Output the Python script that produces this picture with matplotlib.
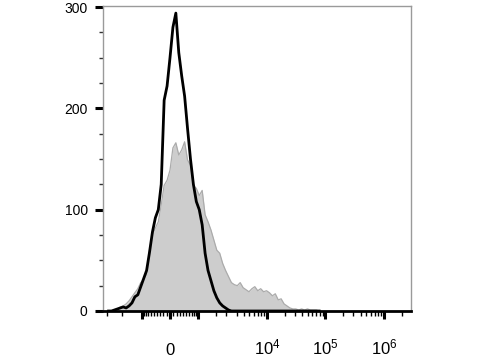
import numpy as np
import matplotlib
matplotlib.use("Agg")
import matplotlib.pyplot as plt

plt.rcParams['font.family'] = ['Liberation Sans', 'DejaVu Sans']
plt.rcParams['mathtext.fontset'] = 'custom'
plt.rcParams['mathtext.rm'] = 'Liberation Sans'
plt.rcParams['mathtext.default'] = 'regular'

# ---- data (counts per channel bin) ----
black_counts = [0, 0, 1, 2, 3, 4, 3, 5, 8, 14, 16, 24, 32, 40, 58, 78, 92, 100,
                125, 208, 222, 250, 280, 294, 255, 232, 212, 180, 150, 125, 108,
                100, 85, 57, 40, 30, 20, 13, 8, 5, 3, 1, 0, 0, 0, 0, 0, 0, 0, 0,
                0, 0, 0, 0, 0, 0, 0, 0, 0, 0, 0, 0, 0, 0, 0, 0, 0, 0, 0, 0, 0, 0, 0]
gray_counts = [0, 0, 1, 2, 4, 5, 7, 10, 14, 18, 22, 28, 31, 36, 60, 75, 82, 88,
               105, 124, 129, 139, 161, 166, 154, 159, 167, 149, 144, 124, 121,
               114, 119, 95, 88, 80, 70, 60, 57, 47, 40, 34, 28, 26, 25, 28, 23,
               21, 19, 22, 24, 20, 22, 19, 20, 18, 15, 17, 11, 12, 7, 5, 3, 2, 2,
               1, 2, 1, 2, 1, 1, 1, 0]
x_tick_labels = ['0', '$10^{4}$', '$10^{5}$', '$10^{6}$']
x_tick_values = [0, 1e4, 1e5, 1e6]
y_ticks = [0, 100, 200, 300]

# ---- biexponential-like display scale ----
W = 440.0
def fwd(x):
    return np.arcsinh(np.asarray(x, dtype=float) / W) / np.log(10)
def inv(t):
    return W * np.sinh(np.asarray(t, dtype=float) * np.log(10))

# channel bin centres (display units) -> values
t_centres = -1.05 + 0.05 * np.arange(len(gray_counts))
x_vals = inv(t_centres)

fig = plt.figure(figsize=(4.8, 3.6), dpi=100)
ax = fig.add_axes([103/480, 1 - 311/360, (411-103)/480, (311-6)/360])
ax.set_xscale('function', functions=(fwd, inv))

ax.fill_between(x_vals, 0, gray_counts, color='#cdcdcd', lw=0, zorder=1)
ax.plot(x_vals, gray_counts, color='#ababab', lw=0.9, zorder=2)
ax.plot(x_vals, black_counts, color='black', lw=2.0, zorder=3)

xlo, xhi = float(inv((103-170)/58.5)), float(inv((411-170)/58.5))

# x ticks
major_x = [-575, 0, 575] + x_tick_values[1:]
major_lbl = ['', x_tick_labels[0], ''] + x_tick_labels[1:]
ax.set_xticks(major_x)
ax.set_xticklabels(major_lbl)
minor_x = [-2600, -1400] + list(np.arange(-540, 541, 60))
minor_x += [1300, 2000, 3000, 4000, 5000, 6000, 7000, 8000, 9000]
for d in [1e4, 1e5, 1e6]:
    minor_x += [m * d for m in range(2, 10)]
minor_x = [v for v in minor_x if xlo < v < xhi]
ax.set_xticks(minor_x, minor=True)
ax.tick_params(axis='x', which='major', direction='out', length=6, width=2.2,
               color='black', labelsize=12, pad=25.5)
ax.tick_params(axis='x', which='minor', direction='out', length=3.5, width=1,
               color='black')
for lab in ax.get_xticklabels():
    lab.set_va('baseline')

ax.set_xlim(xlo, xhi)

# y ticks
ax.set_yticks(y_ticks)
ax.set_yticks(np.arange(25, 300, 25), minor=True)
ax.tick_params(axis='y', which='major', direction='out', length=6, width=2.2,
               color='black', labelsize=10, pad=5)
ax.tick_params(axis='y', which='minor', direction='out', length=3, width=1,
               color='#333333')
ax.set_ylim(0, 301)

for s in ['left', 'top', 'right']:
    ax.spines[s].set_color('#9a9a9a')
    ax.spines[s].set_linewidth(1)
ax.spines['bottom'].set_color('black')
ax.spines['bottom'].set_linewidth(2)

fig.savefig('out.png', dpi=100)
